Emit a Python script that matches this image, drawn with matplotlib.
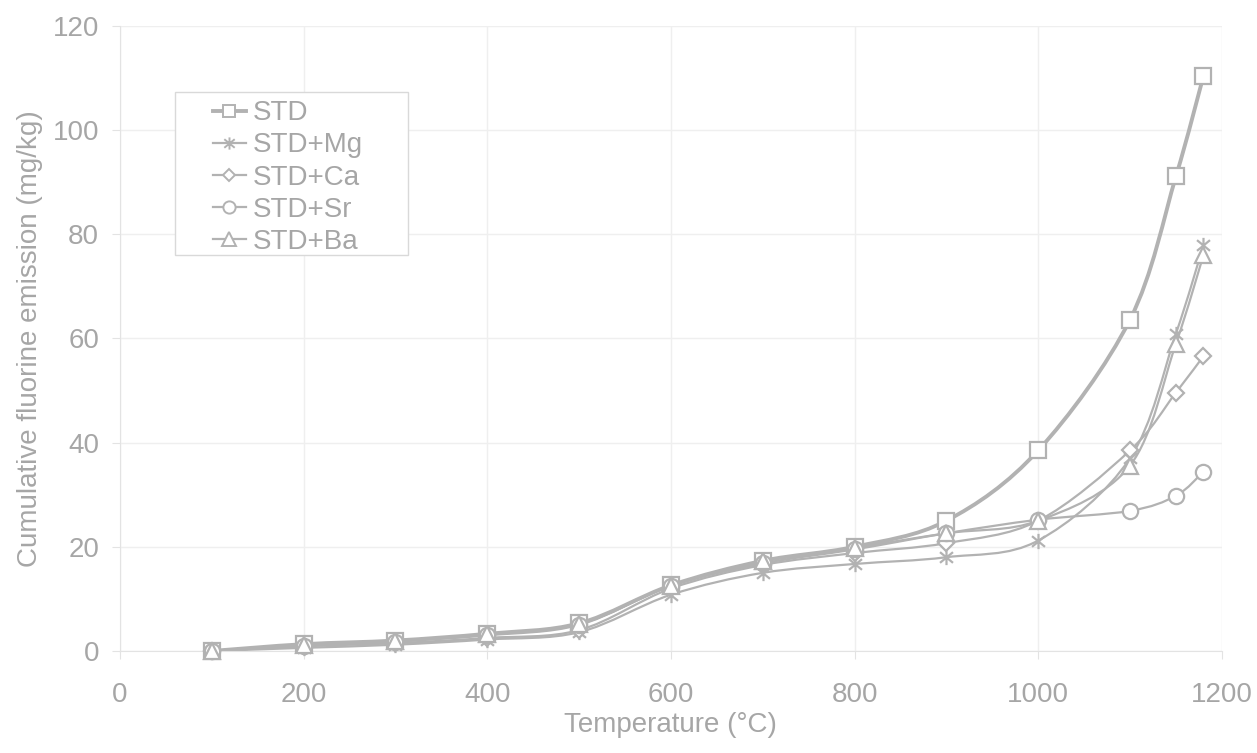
import matplotlib
matplotlib.use("Agg")
import matplotlib.pyplot as plt
from matplotlib.path import Path
from matplotlib.patches import PathPatch, Rectangle
from matplotlib.lines import Line2D
import numpy as np

plt.rcParams["font.family"] = ["Liberation Sans", "DejaVu Sans"]

temperature = [100, 200, 300, 400, 500, 600, 700, 800, 900, 1000, 1100, 1150, 1180]
std = [0, 1.3, 2.0, 3.3, 5.3, 12.6, 17.3, 20.0, 25.0, 38.5, 63.6, 91.1, 110.4]
std_mg = [0, 0.6, 1.2, 2.2, 3.6, 10.8, 15.0, 16.7, 18.0, 21.2, 37.0, 60.9, 77.9]
std_ca = [0, 0.9, 1.5, 2.5, 4.0, 12.0, 16.5, 18.8, 20.7, 25.0, 38.5, 49.6, 56.6]
std_sr = [0, 1.0, 1.8, 3.0, 5.0, 12.5, 16.8, 19.5, 22.6, 25.2, 26.9, 29.8, 34.4]
std_ba = [0, 1.2, 2.0, 3.2, 5.2, 12.5, 17.2, 19.8, 22.6, 25.0, 35.6, 59.0, 76.0]

labels = ["STD", "STD+Mg", "STD+Ca", "STD+Sr", "STD+Ba"]
series = [std, std_mg, std_ca, std_sr, std_ba]

GREY = "#b2b2b2"
TEXT = "#a6a6a6"
LIGHT = "#e3e3e3"

star = Path(
    [(0, -1), (0, 1), (-0.85, -0.7), (0.85, 0.7), (-0.85, 0.7), (0.85, -0.7)],
    [Path.MOVETO, Path.LINETO, Path.MOVETO, Path.LINETO, Path.MOVETO, Path.LINETO],
)
markers = ["s", star, "D", "o", "^"]
sizes = [11.5, 11, 8, 11, 12]
widths = [2.8, 1.6, 1.6, 1.6, 1.6]


def smooth_path(xs, ys):
    # catmull-rom style bezier, like a spreadsheet "smoothed line"
    pts = np.column_stack([xs, ys]).astype(float)
    verts = [tuple(pts[0])]
    codes = [Path.MOVETO]
    n = len(pts)
    for i in range(n - 1):
        p0 = pts[i - 1] if i > 0 else pts[i]
        p1 = pts[i]
        p2 = pts[i + 1]
        p3 = pts[i + 2] if i + 2 < n else pts[i + 1]
        c1 = p1 + (p2 - p0) / 6.0
        c2 = p2 - (p3 - p1) / 6.0
        verts += [tuple(c1), tuple(c2), tuple(p2)]
        codes += [Path.CURVE4] * 3
    return Path(verts, codes)


fig, ax = plt.subplots(figsize=(12.57, 7.53), dpi=100)
fig.subplots_adjust(left=0.0955, right=0.972, top=0.9655, bottom=0.1355)

handles = []
for values, label, marker, ms, lw in zip(series, labels, markers, sizes, widths):
    ax.add_patch(PathPatch(smooth_path(temperature, values), facecolor="none",
                           edgecolor=GREY, linewidth=lw, zorder=2))
    ax.plot(temperature, values, linestyle="none", marker=marker, markersize=ms,
            markerfacecolor="white", markeredgecolor=GREY, markeredgewidth=1.6,
            zorder=3, clip_on=False)
    handles.append(Line2D([], [], color=GREY, linewidth=lw, marker=marker, markersize=ms * 0.8,
                          markerfacecolor="white", markeredgecolor=GREY, markeredgewidth=1.4))

ax.set_xlim(0, 1200)
ax.set_ylim(0, 120)
ax.set_xticks(range(0, 1201, 200))
ax.set_yticks(range(0, 121, 20))
ax.grid(True, color="#efefef", linewidth=1)
ax.set_axisbelow(True)
for side in ["top", "right"]:
    ax.spines[side].set_visible(False)
for side in ["left", "bottom"]:
    ax.spines[side].set_color(LIGHT)
ax.tick_params(length=6, color=LIGHT, labelsize=20, labelcolor=TEXT)
ax.tick_params(axis="x", pad=16)
ax.tick_params(axis="y", pad=9)
ax.set_xlabel("Temperature (°C)", fontsize=20, color=TEXT, labelpad=3)
ax.set_ylabel("Cumulative fluorine emission (mg/kg)", fontsize=20, color=TEXT, labelpad=7)

# legend box is wider than its entries, so draw the frame on its own
ax.add_patch(Rectangle((0.0499, 0.6336), 0.2114, 0.2608, transform=ax.transAxes,
                       facecolor="white", edgecolor="#d9d9d9", linewidth=1, zorder=4))
leg = ax.legend(handles, labels, loc="upper left", bbox_to_anchor=(0.084, 0.881),
                borderaxespad=0, borderpad=0, fontsize=20, frameon=False,
                handlelength=1.2, handletextpad=0.25, labelspacing=0.22)
leg.set_zorder(5)
for t in leg.get_texts():
    t.set_color(TEXT)

fig.savefig("out.png", dpi=100)
